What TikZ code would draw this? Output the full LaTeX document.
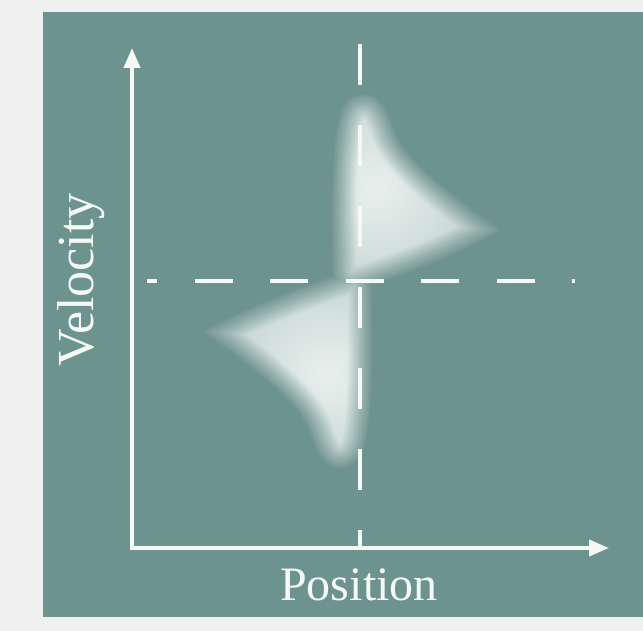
\documentclass[tikz,border=0pt]{standalone}
\usepackage{fontspec}
\setmainfont{Liberation Serif}
\usetikzlibrary{arrows.meta}

\definecolor{pagegray}{RGB}{240,240,240}
\definecolor{panelteal}{RGB}{109,147,142}
\definecolor{blobcore}{RGB}{232,240,238}
\definecolor{blobrim}{RGB}{135,166,161}
\definecolor{axiswhite}{RGB}{246,248,246}

\tikzset{
  blobpath/.style={insert path={(364,90) .. controls (385,90) and (392,110) .. (398,128)
      .. controls (405,152) and (440,182) .. (510,231)
      .. controls (455,262) and (400,280) .. (362,294)
      .. controls (342,301) and (328,292) .. (328,270)
      .. controls (328,200) and (328,145) .. (335,115)
      .. controls (340,98) and (350,90) .. (364,90) -- cycle}},
  fadering/.style={draw=panelteal, line join=round},
  axisline/.style={draw=axiswhite, line width=4pt,
      {Triangle[length=20pt,width=16pt]}-{Triangle[length=20pt,width=16pt]}},
  guideline/.style={draw=axiswhite, line width=4pt},
  axislabel/.style={text=axiswhite, inner sep=0pt}
}

\newcommand\drawblob{%
  \begin{scope}[blend mode=lighten]
  \begin{scope}[transparency group]
    \clip[blobpath];
    \shade[inner color=blobcore, outer color=blobrim] (376,188) circle (300);
    \foreach \h in {1,...,28}
      \draw[fadering, opacity=1/\h, line width=2*\h pt, blobpath];
  \end{scope}
  \end{scope}
}

\begin{document}
\begin{tikzpicture}[x=1pt, y=-1pt]
  \fill[pagegray] (0,0) rectangle (643,631);
  \fill[panelteal] (43,12) rectangle (643,617);

  % the two smeared lobes
  \drawblob
  \begin{scope}[rotate around={180:(352,281)}]
    \drawblob
  \end{scope}

  % guide lines
  \coordinate (vtop) at (360,44);
  \coordinate (vbot) at (360,548);
  \coordinate (hleft) at (147,281);
  \coordinate (hright) at (575,281);
  \draw[guideline, dash pattern=on 41pt off 40pt] (vtop) -- (vbot);
  \draw[guideline, dash pattern=on 38pt off 37.5pt, dash phase=28pt] (hleft) -- (hright);

  % axes
  \coordinate (ytip) at (132,48);
  \coordinate (origin) at (132,548);
  \coordinate (xtip) at (609,548);
  \draw[axisline] (ytip) -- (origin) -- (xtip);

  \node[axislabel, font=\fontsize{52}{54}\selectfont, rotate=90, anchor=base] (vlabel) at (93,280) {Velocity};
  \node[axislabel, font=\fontsize{48}{50}\selectfont, anchor=base] (plabel) at (359,600) {Position};
\end{tikzpicture}
\end{document}
